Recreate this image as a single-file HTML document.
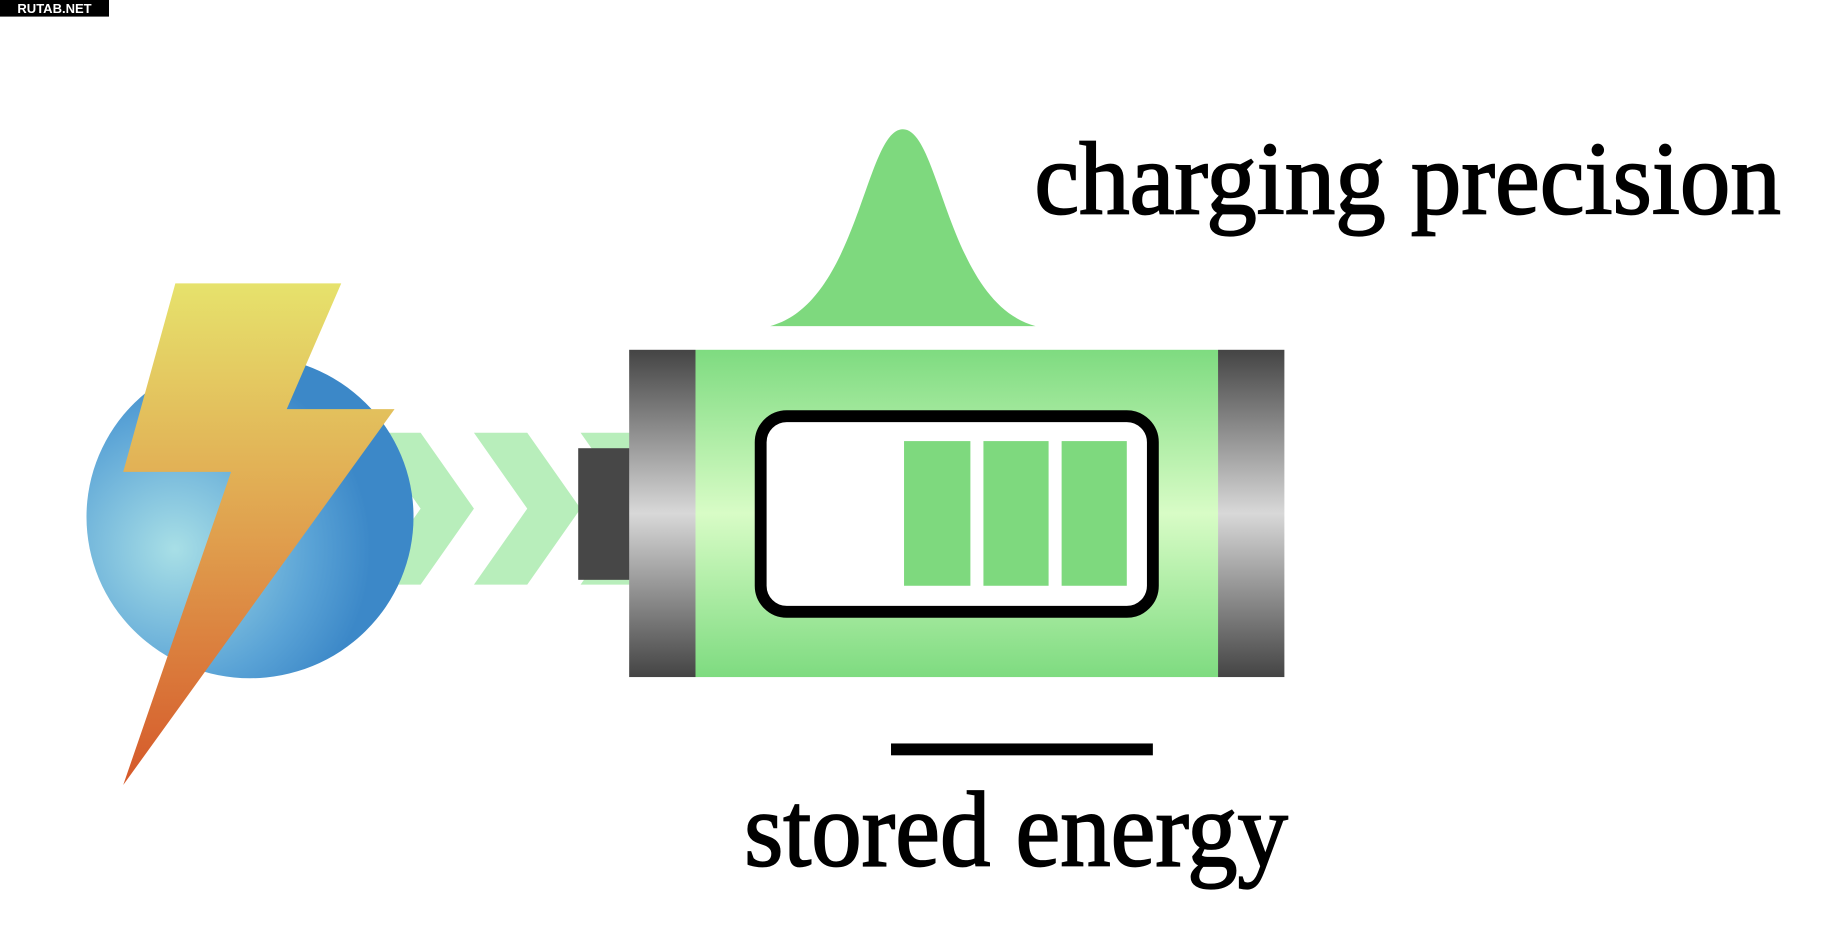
<!DOCTYPE html>
<html><head><meta charset="utf-8">
<style>
html,body{margin:0;padding:0;background:#fff;}
svg{display:block;}
</style></head>
<body>
<svg width="1846" height="932" viewBox="0 0 1558 786" preserveAspectRatio="none" xmlns="http://www.w3.org/2000/svg">
<defs>
<radialGradient id="globe" cx="0.27" cy="0.6" r="0.75">
<stop offset="0" stop-color="#a8dfe6"/>
<stop offset="0.55" stop-color="#5aa3d6"/>
<stop offset="0.8" stop-color="#3c88c8"/>
</radialGradient>
<linearGradient id="bolt" x1="0" y1="0" x2="0" y2="1">
<stop offset="0" stop-color="#e6e26c"/>
<stop offset="0.5" stop-color="#e0a04e"/>
<stop offset="1" stop-color="#d5582a"/>
</linearGradient>
<linearGradient id="cap" x1="0" y1="0" x2="0" y2="1">
<stop offset="0" stop-color="#444"/>
<stop offset="0.5" stop-color="#d8d8d8"/>
<stop offset="1" stop-color="#444"/>
</linearGradient>
<linearGradient id="body" x1="0" y1="0" x2="0" y2="1">
<stop offset="0" stop-color="#7edb80"/>
<stop offset="0.5" stop-color="#d8fcc6"/>
<stop offset="1" stop-color="#7edb80"/>
</linearGradient>
</defs>
<rect x="0" y="0" width="92" height="14" fill="#000"/>
<text x="46" y="11" font-family="Liberation Sans, sans-serif" font-weight="bold" font-size="11" fill="#fff" text-anchor="middle">RUTAB.NET</text>

<polygon points="310,365 355,365 400,429 355,493 310,493 355,429" fill="#b8eebb"/>
<polygon points="400,365 445,365 490,429 445,493 400,493 445,429" fill="#b8eebb"/>
<polygon points="490,365 535,365 535,493 490,493 535,429" fill="#b8eebb"/>

<ellipse cx="211" cy="436" rx="138" ry="136" fill="url(#globe)"/>
<polygon points="148,239 288,239 242,345 333,345 104,662 195,398 104,398" fill="url(#bolt)"/>

<rect x="488" y="378" width="45" height="111" fill="#474747"/>

<rect x="531" y="295" width="56" height="276" fill="url(#cap)"/>
<rect x="1028" y="295" width="56" height="276" fill="url(#cap)"/>
<rect x="587" y="295" width="441" height="276" fill="url(#body)"/>

<rect x="642" y="351" width="331" height="165" rx="22" ry="22" fill="#fff" stroke="#000" stroke-width="10"/>
<rect x="763" y="372" width="56" height="122" fill="#7ed97e"/>
<rect x="830" y="372" width="55" height="122" fill="#7ed97e"/>
<rect x="896" y="372" width="55" height="122" fill="#7ed97e"/>

<path d="M650,275 C725,255 730,109 762,109 C794,109 799,255 874,275 Z" fill="#7ed97e"/>

<text x="873" y="180" font-family="Liberation Serif, serif" font-size="88" fill="#000" stroke="#000" stroke-width="1.5" textLength="630" lengthAdjust="spacingAndGlyphs">charging precision</text>
<rect x="752" y="627" width="221" height="10" fill="#000"/>
<text x="628" y="730" font-family="Liberation Serif, serif" font-size="90" fill="#000" stroke="#000" stroke-width="1.5" textLength="459" lengthAdjust="spacingAndGlyphs">stored energy</text>
</svg>
</body></html>
